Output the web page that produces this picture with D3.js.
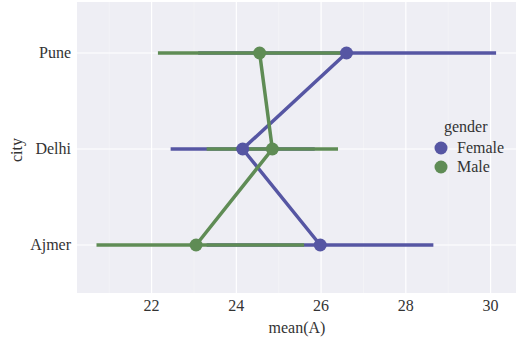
<!DOCTYPE html>
<html><head><meta charset="utf-8">
<script src="https://cdn.jsdelivr.net/npm/d3@7"></script>
<style>body{margin:0;background:#fff}svg{display:block}text{font-family:"Liberation Serif","Times New Roman",serif}</style>
</head><body>
<script>
const cities = ["Pune", "Delhi", "Ajmer"];
const genders = ["Female", "Male"];
const femaleMean = [26.6, 24.15, 25.98];
const femaleLow  = [23.1, 22.45, 23.3];
const femaleHigh = [30.13, 25.85, 28.65];
const maleMean = [24.55, 24.85, 23.05];
const maleLow  = [22.15, 23.3, 20.7];
const maleHigh = [26.6, 26.4, 25.6];
const xTicks = [22, 24, 26, 28, 30];
const colors = {Female: "#5656a3", Male: "#5f8c55"};

const W = 516, H = 338;
const m = {l: 77, r: 0, t: 2, b: 45};
const svg = d3.select("body").append("svg").attr("width", W).attr("height", H);
const x = d3.scaleLinear().domain([20.24, 30.6]).range([m.l, W - m.r]);
const y = d3.scalePoint().domain(cities).range([53, 245]);
const fs = 16;

svg.append("rect").attr("x", m.l).attr("y", m.t).attr("width", W - m.r - m.l).attr("height", H - m.b - m.t).attr("fill", "#eeeef4");
svg.selectAll(".mg").data([21, 23, 25, 27, 29]).join("line")
  .attr("x1", d => x(d)).attr("x2", d => x(d)).attr("y1", m.t).attr("y2", H - m.b)
  .attr("stroke", "#f6f6f9").attr("stroke-width", 0.6);
svg.selectAll(".gx").data(xTicks).join("line")
  .attr("x1", d => x(d)).attr("x2", d => x(d)).attr("y1", m.t).attr("y2", H - m.b)
  .attr("stroke", "#fff").attr("stroke-width", 1.2);
svg.selectAll(".gy").data(cities).join("line")
  .attr("x1", m.l).attr("x2", W - m.r).attr("y1", d => y(d)).attr("y2", d => y(d))
  .attr("stroke", "#fff").attr("stroke-width", 1.2);

const series = genders.map(g => ({
  g,
  rows: cities.map((c, i) => ({
    c,
    mean: g === "Female" ? femaleMean[i] : maleMean[i],
    lo: g === "Female" ? femaleLow[i] : maleLow[i],
    hi: g === "Female" ? femaleHigh[i] : maleHigh[i]
  }))
}));

const line = d3.line().x(d => x(d.mean)).y(d => y(d.c));
series.forEach(s => {
  svg.append("path").attr("d", line(s.rows)).attr("fill", "none")
    .attr("stroke", colors[s.g]).attr("stroke-width", 3.5);
});
series.forEach(s => {
  svg.selectAll(null).data(s.rows).join("line")
    .attr("x1", d => x(d.lo)).attr("x2", d => x(d.hi))
    .attr("y1", d => y(d.c)).attr("y2", d => y(d.c))
    .attr("stroke", colors[s.g]).attr("stroke-width", 3.5);
});
series.forEach(s => {
  svg.selectAll(null).data(s.rows).join("circle")
    .attr("cx", d => x(d.mean)).attr("cy", d => y(d.c)).attr("r", 6.5)
    .attr("fill", colors[s.g]);
});

svg.selectAll(".xt").data(xTicks).join("text")
  .attr("x", d => x(d)).attr("y", 311).attr("text-anchor", "middle")
  .attr("font-size", fs).attr("fill", "#333").text(d => d);
svg.selectAll(".yt").data(cities).join("text")
  .attr("x", 71).attr("y", d => y(d) + 5).attr("text-anchor", "end")
  .attr("font-size", fs).attr("fill", "#333").text(d => d);
svg.append("text").attr("x", 297).attr("y", 333).attr("text-anchor", "middle")
  .attr("font-size", fs).attr("fill", "#333").text("mean(A)");
svg.append("text").attr("transform", "translate(22,150) rotate(-90)").attr("text-anchor", "middle")
  .attr("font-size", fs).attr("fill", "#333").text("city");

const lg = svg.append("g");
lg.append("text").attr("x", 444).attr("y", 132).attr("font-size", fs).attr("fill", "#333").text("gender");
genders.forEach((g, i) => {
  lg.append("circle").attr("cx", 441).attr("cy", 148 + i * 19).attr("r", 6.5).attr("fill", colors[g]);
  lg.append("text").attr("x", 457).attr("y", 153 + i * 19).attr("font-size", fs).attr("fill", "#333").text(g);
});
</script>
</body></html>
